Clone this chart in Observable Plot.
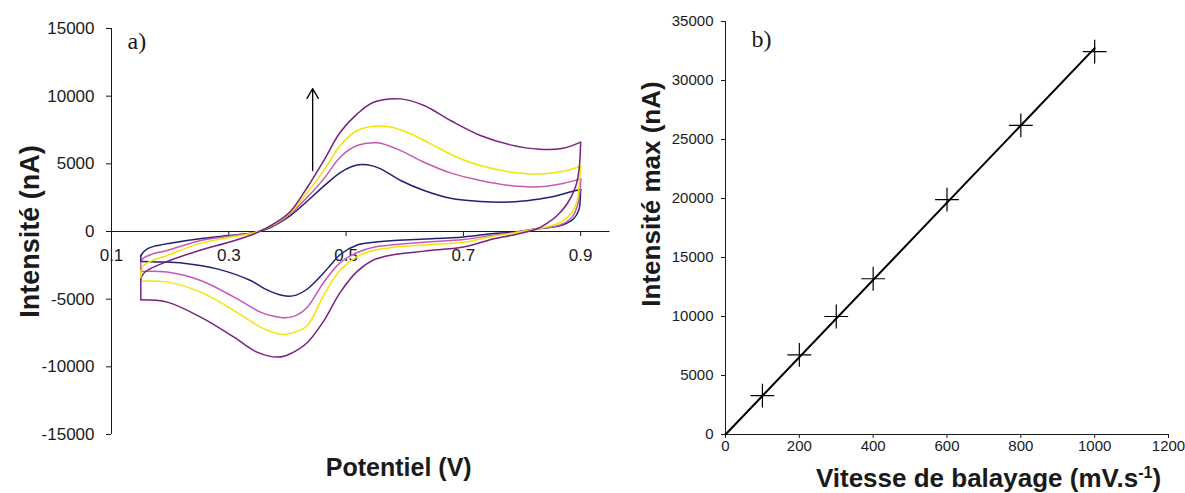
<!DOCTYPE html>
<html><head><meta charset="utf-8">
<script src="https://cdn.jsdelivr.net/npm/d3@7"></script>
<script src="https://cdn.jsdelivr.net/npm/@observablehq/plot@0.6"></script>
<style>
body{margin:0;background:#fff;}
#wrap{position:relative;width:1185px;height:493px;overflow:hidden;background:#fff;}
#left{position:absolute;left:0;top:0;}
#right{position:absolute;left:640px;top:0;}
</style></head><body>
<div id="wrap"><div id="left"></div><div id="right"></div></div>
<script>
// ---------- Panel a) cyclic voltammograms ----------
const xTicksA = [0.1, 0.3, 0.5, 0.7, 0.9];
const yTicksA = [-15000, -10000, -5000, 0, 5000, 10000, 15000];

// cycle 1 (navy, lowest scan rate): forward scan 0.15 -> 0.9, then reverse scan 0.9 -> 0.15
const c1V = [0.150,0.155,0.161,0.172,0.200,0.257,0.300,0.343,0.360,0.380,0.405,0.434,0.462,0.490,0.510,0.527,0.545,0.559,0.593,0.633,0.678,0.729,0.780,0.820,0.854,0.880,0.900,
             0.899,0.897,0.888,0.866,0.826,0.780,0.752,0.700,0.633,0.576,0.547,0.519,0.490,0.475,0.462,0.434,0.415,0.402,0.385,0.360,0.337,0.280,0.223,0.180,0.150];
const c1I = [-1770,-1500,-1280,-1100,-860,-495,-300,-100,100,500,1180,2250,3350,4350,4800,4950,4850,4630,3770,3030,2460,2220,2180,2350,2590,2900,3100,
             2200,1600,940,440,200,-80,-150,-400,-560,-680,-800,-1000,-1700,-2400,-3050,-4250,-4700,-4780,-4650,-4200,-3620,-2760,-2340,-2250,-2220];
// cycle 2 (pink)
const c2V = [0.150,0.155,0.172,0.195,0.252,0.300,0.345,0.380,0.405,0.434,0.462,0.490,0.519,0.553,0.593,0.633,0.678,0.729,0.780,0.830,0.870,0.900,
             0.899,0.895,0.886,0.865,0.826,0.780,0.752,0.700,0.633,0.576,0.547,0.519,0.490,0.462,0.434,0.415,0.397,0.375,0.354,0.309,0.252,0.195,0.150];
const c2I = [-2270,-1950,-1630,-1400,-665,-350,-60,550,1300,2540,3890,5490,6350,6550,5980,5120,4330,3770,3400,3300,3550,3890,
             3000,2000,1100,480,200,-130,-260,-600,-790,-1000,-1160,-1550,-2300,-3750,-5590,-6200,-6380,-6250,-5960,-4850,-3620,-3000,-2950];
// cycle 3 (yellow)
const c3V = [0.150,0.155,0.170,0.195,0.252,0.300,0.345,0.380,0.405,0.434,0.462,0.490,0.519,0.567,0.604,0.644,0.689,0.729,0.780,0.830,0.870,0.900,
             0.898,0.894,0.883,0.860,0.826,0.780,0.752,0.700,0.633,0.576,0.547,0.519,0.490,0.462,0.434,0.415,0.394,0.375,0.354,0.309,0.252,0.195,0.150];
const c3I = [-2880,-2500,-2140,-1770,-860,-450,-80,600,1380,2900,4500,6350,7460,7780,7330,6480,5490,4870,4400,4250,4450,4800,
             3770,2290,1300,570,200,-150,-340,-800,-990,-1200,-1380,-1850,-2850,-4700,-6940,-7400,-7610,-7450,-7070,-5840,-4480,-3740,-3670];
// cycle 4 (purple, highest scan rate)
const c4V = [0.150,0.153,0.160,0.190,0.250,0.300,0.345,0.380,0.405,0.434,0.462,0.490,0.519,0.547,0.593,0.633,0.678,0.729,0.780,0.830,0.870,0.900,
             0.897,0.891,0.877,0.860,0.843,0.826,0.780,0.752,0.700,0.633,0.576,0.547,0.519,0.490,0.462,0.434,0.405,0.385,0.348,0.309,0.252,0.195,0.150];
const c4I = [-3500,-3200,-2900,-2300,-1400,-800,-150,650,1480,3270,5240,7330,8690,9550,9800,9310,8200,7090,6400,6080,6150,6600,
             4500,3270,2050,1180,610,200,-300,-540,-1150,-1450,-1750,-2100,-2950,-4500,-6600,-8200,-9030,-9280,-8910,-7810,-6330,-5220,-5050];

const seriesNames = ["c1", "c2", "c3", "c4"];
const seriesColors = ["#1f2275", "#c957b5", "#f2e600", "#7a2180"];
const seriesV = [c1V, c2V, c3V, c4V];
const seriesI = [c1I, c2I, c3I, c4I];

// annotation arrow (increasing scan rate)
const arrowV = [0.443];
const arrowFrom = [4500];
const arrowTo = [10560];

// ---------- Panel b) peak current vs scan rate ----------
const scanRate = [100, 200, 300, 400, 600, 800, 1000];
const peakCurrent = [3300, 6750, 10000, 13200, 19900, 26200, 32450];
const xTicksB = [0, 200, 400, 600, 800, 1000, 1200];
const yTicksB = [0, 5000, 10000, 15000, 20000, 25000, 30000, 35000];

const SANS = "Arial, 'Liberation Sans', Helvetica, sans-serif";
const SERIF = "'Times New Roman', 'Liberation Serif', serif";
const INK = "#1a1a1a";

// split each cycle into forward branch, reverse branch (both smooth) and the
// straight vertical connector at the lower switching potential
const branches = [];
const connectors = [];
seriesNames.forEach((name, k) => {
  const V = seriesV[k], I = seriesI[k];
  const m = V.indexOf(d3.max(V));
  const row = j => ({series: name, v: V[j], i: I[j]});
  d3.range(0, m + 1).forEach(j => branches.push({...row(j), seg: name + "-fwd"}));
  d3.range(m, V.length).forEach(j => branches.push({...row(j), seg: name + "-rev"}));
  connectors.push({...row(V.length - 1), seg: name + "-c"}, {...row(0), seg: name + "-c"});
});

const left = Plot.plot({
  width: 640, height: 493,
  marginLeft: 111, marginRight: 30.5, marginTop: 28, marginBottom: 59,
  style: {fontFamily: SANS, fontSize: "17px", background: "white", color: INK, overflow: "visible"},
  x: {domain: [0.1, 0.95], axis: null},
  y: {domain: [-15000, 15000]},
  color: {domain: seriesNames, range: seriesColors},
  marks: [
    Plot.axisY(yTicksA, {tickSize: 5, tickPadding: 12, tickFormat: d => String(d), label: null, fontSize: 17}),
    Plot.ruleX([0.1], {stroke: INK}),
    Plot.ruleY([0], {stroke: INK}),
    Plot.ruleX(xTicksA, {x: d => d, y1: 0, y2: 0, insetBottom: -5, stroke: INK}),
    Plot.text(xTicksA, {x: d => d, y: 0, dy: 24, text: d => d.toFixed(1), fontSize: 17, fill: INK}),
    Plot.line(branches, {x: "v", y: "i", z: "seg", stroke: "series", strokeWidth: 1.5, curve: "catmull-rom"}),
    Plot.line(connectors, {x: "v", y: "i", z: "seg", stroke: "series", strokeWidth: 1.5}),
    Plot.arrow(arrowV, {x1: d => d, x2: d => d, y1: (d, j) => arrowFrom[j], y2: (d, j) => arrowTo[j],
      headLength: 13, headAngle: 60, strokeWidth: 1.3, stroke: "#000"}),
    Plot.text(["a)"], {frameAnchor: "top-left", textAnchor: "start", lineAnchor: "middle", dx: 16, dy: 13, fontSize: 24, fontFamily: SERIF, fill: INK}),
    Plot.text(["Intensité (nA)"], {frameAnchor: "left", textAnchor: "middle", lineAnchor: "middle", dx: -81, rotate: -90, fontSize: 27, fontWeight: "bold", fill: INK}),
    Plot.text(["Potentiel (V)"], {frameAnchor: "bottom", textAnchor: "middle", lineAnchor: "middle", dx: 38, dy: 33, fontSize: 25, fontWeight: "bold", fill: INK})
  ]
});
document.getElementById("left").appendChild(left);

// least-squares fit through the origin
const slope = d3.sum(scanRate, (x, j) => x * peakCurrent[j]) / d3.sum(scanRate, x => x * x);
const fitLine = [0, d3.max(scanRate)].map(x => ({x, y: slope * x}));
const pts = scanRate.map((x, j) => ({x, y: peakCurrent[j]}));

const right = Plot.plot({
  width: 545, height: 493,
  marginLeft: 85, marginRight: 17, marginTop: 21, marginBottom: 59,
  style: {fontFamily: SANS, fontSize: "15px", background: "white", color: INK, overflow: "visible"},
  x: {domain: [0, 1200]},
  y: {domain: [0, 35000]},
  marks: [
    Plot.axisY(yTicksB, {tickSize: 4, tickPadding: 8, tickFormat: d => String(d), label: null, fontSize: 15}),
    Plot.axisX(xTicksB, {tickSize: 4, tickPadding: 2, tickFormat: d => String(d), label: null, fontSize: 15}),
    Plot.ruleX([0], {stroke: INK}),
    Plot.ruleY([0], {stroke: INK}),
    Plot.line(fitLine, {x: "x", y: "y", stroke: "#000", strokeWidth: 2}),
    Plot.dot(pts, {x: "x", y: "y", symbol: "plus", r: 7.7, stroke: "#000", strokeWidth: 1.2}),
    Plot.text(["b)"], {frameAnchor: "top-left", textAnchor: "start", lineAnchor: "middle", dx: 26, dy: 18, fontSize: 24, fontFamily: SERIF, fill: INK}),
    Plot.text(["Intensité max (nA)"], {frameAnchor: "left", textAnchor: "middle", lineAnchor: "middle", dx: -74, dy: -34, rotate: -90, fontSize: 26, fontWeight: "bold", fill: INK}),
    Plot.text(["Vitesse de balayage (mV.s-1)"], {frameAnchor: "bottom", textAnchor: "middle", lineAnchor: "middle", dx: 41.5, dy: 44, fontSize: 26, fontWeight: "bold", fill: INK})
  ]
});
document.getElementById("right").appendChild(right);

// superscript "-1" in the x title
d3.select(right).selectAll("text").filter(function() { return this.textContent === "Vitesse de balayage (mV.s-1)"; })
  .each(function() {
    const t = d3.select(this);
    t.text(null);
    t.append("tspan").text("Vitesse de balayage (mV.s");
    t.append("tspan").attr("font-size", "16px").attr("dy", "-9").text("-1");
    t.append("tspan").attr("dy", "9").text(")");
  });
</script>
</body></html>
